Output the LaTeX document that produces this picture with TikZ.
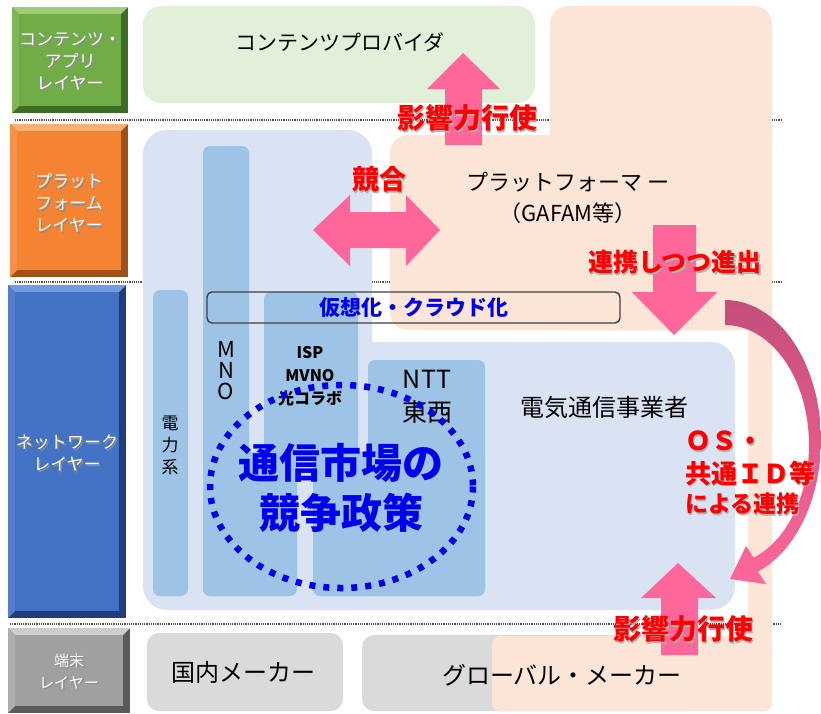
\documentclass[tikz,border=0pt]{standalone}
\usepackage{fontspec}
\setmainfont{Noto Sans CJK JP}
\definecolor{peach}{RGB}{251,229,214}
\definecolor{lblue}{RGB}{218,227,243}
\definecolor{mblue}{RGB}{157,195,230}
\definecolor{lgreen}{RGB}{226,240,217}
\definecolor{lgray}{RGB}{218,218,218}
\definecolor{pinkA}{RGB}{255,102,153}
\definecolor{pinkD}{RGB}{196,78,122}
\definecolor{txtred}{RGB}{255,0,0}
\definecolor{txtblue}{RGB}{0,0,235}
\definecolor{dotgray}{RGB}{80,80,80}
\definecolor{greenM}{RGB}{112,173,71}
\definecolor{greenL}{RGB}{160,205,120}
\definecolor{greenD}{RGB}{62,110,35}
\definecolor{orangeM}{RGB}{244,132,52}
\definecolor{orangeL}{RGB}{250,175,115}
\definecolor{orangeD}{RGB}{160,80,25}
\definecolor{blueM}{RGB}{68,114,196}
\definecolor{blueL}{RGB}{115,155,222}
\definecolor{blueD}{RGB}{32,62,125}
\definecolor{grayM}{RGB}{160,160,160}
\definecolor{grayL}{RGB}{205,205,205}
\definecolor{grayD}{RGB}{90,90,90}
\newcommand\bevelbox[5]{%
  \fill[#5D] (#1,#2) rectangle (#3,#4);
  \fill[#5L] (#1,#2) -- (#3,#2) -- ({#3-7},{#2+7}) -- ({#1+7},{#2+7}) -- cycle;
  \fill[#5M!70!#5L] (#1,#2) -- ({#1+7},{#2+7}) -- ({#1+7},{#4-7}) -- (#1,#4) -- cycle;
  \fill[#5M] ({#1+7},{#2+7}) rectangle ({#3-7},{#4-7});
}
% text with a soft offset shadow
\newcommand\shd[2]{\makebox[0pt][l]{\hspace{1.6pt}\raisebox{-1.6pt}{\textcolor{#1}{#2}}}#2}
\begin{document}
\begin{tikzpicture}[x=1pt,y=-1pt,
  every node/.style={inner sep=0pt, outer sep=0pt},
  lay/.style={text=white, align=center, font=\fontsize{17}{22}\selectfont},
  blk/.style={text=black, align=center},
  redt/.style={text=txtred, font=\bfseries\fontsize{28}{30}\selectfont},
  bar/.style={fill=mblue, rounded corners=7pt},
  parr/.style={fill=pinkA},
  dotl/.style={draw=dotgray, line width=1.3pt, dash pattern=on 1.2pt off 1pt}]
\useasboundingbox (0,0) rectangle (821,713);
\fill[white] (0,0) rectangle (821,713);
% layer separators
\coordinate (s1a) at (15,120); \coordinate (s1b) at (782,120);
\coordinate (s2a) at (15,282); \coordinate (s2b) at (782,282);
\coordinate (s3a) at (10,624); \coordinate (s3b) at (782,624);
\draw[dotl] (s1a) -- (s1b);
\draw[dotl] (s2a) -- (s2b);
\draw[dotl] (s3a) -- (s3b);
% content layer region
\fill[lgreen, rounded corners=18pt] (143,6) rectangle (535,103);
% gray maker boxes
\fill[lgray, rounded corners=12pt] (147,633) rectangle (343,711);
\fill[lgray, rounded corners=12pt] (362,635) rectangle (700,711);
% platformer (peach) region
\fill[peach, rounded corners=18pt] (550,6) rectangle (772,330);
\fill[peach, rounded corners=18pt] (390,135) rectangle (772,330);
\fill[peach, rounded corners=8pt] (748,300) rectangle (772,711);
\fill[peach, rounded corners=8pt] (492,636) rectangle (772,711);
% telecom (light blue) region
\fill[lblue, rounded corners=24pt] (143,130) rectangle (372,610);
\fill[lblue, rounded corners=24pt] (300,342) rectangle (735,610);
% bars
\fill[bar] (153,290) rectangle (188,596);
\fill[bar] (203,146) rectangle (249,596);
\fill[bar] (203,452) rectangle (297,596);
\fill[bar] (264,292) rectangle (358,460);
\fill[bar] (368,360) rectangle (485,596);
\fill[bar] (313,452) rectangle (485,596);
% layer boxes
\bevelbox{12}{7}{128}{113}{green}
\bevelbox{10}{124}{128}{277}{orange}
\bevelbox{8}{285}{126}{618}{blue}
\bevelbox{8}{628}{130}{713}{gray}
\node[lay] (lc) at (70,62) {\shd{black!45}{コンテンツ・}\\\shd{black!45}{アプリ}\\\shd{black!45}{レイヤー}};
\node[lay] (lp) at (69,204) {\shd{black!45}{プラット}\\\shd{black!45}{フォーム}\\\shd{black!45}{レイヤー}};
\node[lay] (ln) at (67,454) {\shd{black!45}{ネットワーク}\\\shd{black!45}{レイヤー}};
\node[lay, font=\fontsize{15}{22}\selectfont] (lt) at (69,672) {\shd{black!45}{端末}\\\shd{black!45}{レイヤー}};
% virtualization box
\node[draw=black!75, line width=1.4pt, rounded corners=5pt, minimum width=413pt, minimum height=31pt,
      text=txtblue, font=\bfseries\fontsize{21}{24}\selectfont] (virt) at (413.5,307.5) {仮想化・クラウド化};
% black labels
\node[blk, font=\fontsize{21}{24}\selectfont] (cp) at (340,42) {コンテンツプロバイダ};
\node[blk, font=\fontsize{22}{31}\selectfont] (pf) at (568,198) {プラットフォーマ ー\\（GAFAM等）};
\node[blk, font=\fontsize{24}{28}\selectfont] (tc) at (604,407) {電気通信事業者};
\node[blk, font=\fontsize{24}{28}\selectfont] (dm) at (243,672) {国内メーカー};
\node[blk, font=\fontsize{24}{28}\selectfont] (gm) at (562,675) {グローバル・メーカー};
\node[blk, font=\fontsize{25}{33}\selectfont] (ntt) at (427,397) {NTT\\東西};
\node[blk, font=\bfseries\fontsize{16}{23}\selectfont] (isp) at (310,376) {ISP\\MVNO\\光コラボ};
\node[blk, font=\fontsize{22}{21}\selectfont] (mno) at (226,371) {M\\N\\O};
\node[blk, font=\fontsize{17}{22}\selectfont] (den) at (170,445) {電\\力\\系};
% competition policy circle
\draw[txtblue, line width=6.5pt, dash pattern=on 6pt off 8pt] (341.5,486.5) ellipse [x radius=131.5, y radius=101.5];
\node[text=txtblue, align=center, font=\bfseries\fontsize{41}{50}\selectfont] (pol) at (341,488) {通信市場の\\競争政策};
% pink arrows
\fill[parr] (445,145) -- (445,89) -- (427,89) -- (463,53) -- (500,89) -- (482,89) -- (482,145) -- cycle;
\fill[parr] (313,230) -- (350,195) -- (350,212) -- (406,212) -- (406,195) -- (440,230) -- (406,266) -- (406,248) -- (350,248) -- (350,266) -- cycle;
\fill[parr] (653,225) -- (696,225) -- (696,292) -- (717,292) -- (674,335) -- (632,292) -- (653,292) -- cycle;
\fill[parr] (661,655) -- (661,598) -- (641,598) -- (678,563) -- (716,598) -- (698,598) -- (698,655) -- cycle;
\shade[top color=pinkD, bottom color=pinkA]
  plot[domain=0:160, samples=50] ({725+96*sin(\x)},{440-140*cos(\x)})
  -- (766,584) -- (730,579) -- (746,546)
  -- plot[domain=160:0, samples=50] ({725+84*sin(\x)},{445-120*cos(\x)}) -- cycle;
% red labels
\node[redt] (ei1) at (467,119) {\shd{black!30}{影響力行使}};
\node[redt, font=\bfseries\fontsize{27}{30}\selectfont] (kg) at (379,180) {\shd{black!30}{競合}};
\node[redt, font=\bfseries\fontsize{25}{30}\selectfont] (rk) at (675,263) {\shd{black!30}{連携しつつ進出}};
\node[redt] (ei2) at (683,630) {\shd{black!30}{影響力行使}};
\node[redt, font=\bfseries\fontsize{26}{30}\selectfont, anchor=west] (os1) at (685,442) {\shd{black!30}{ＯＳ・}};
\node[redt, font=\bfseries\fontsize{26}{30}\selectfont, anchor=west] (os2) at (685,474) {\shd{black!30}{共通ＩＤ等}};
\node[redt, font=\bfseries\fontsize{23}{30}\selectfont, anchor=west] (os3) at (685,505) {\shd{black!30}{による連携}};
\end{tikzpicture}
\end{document}
